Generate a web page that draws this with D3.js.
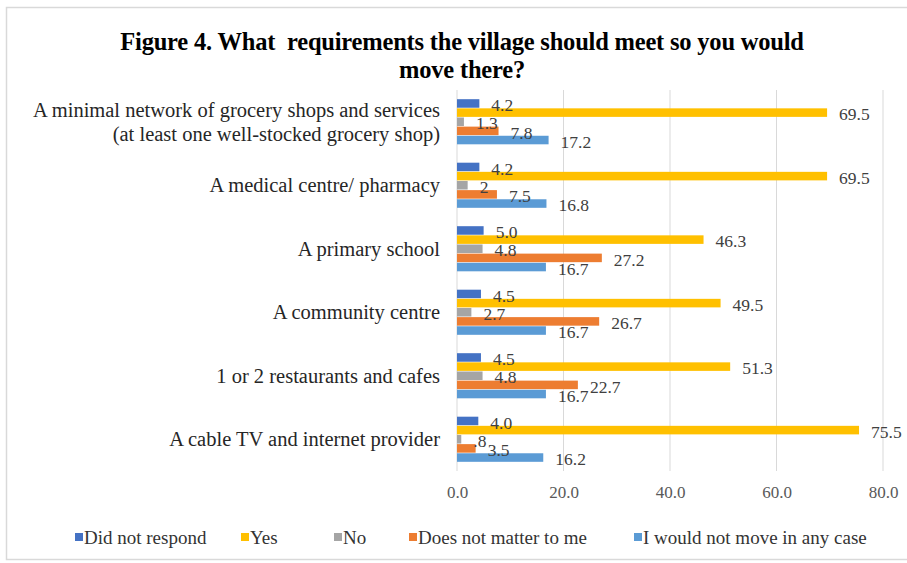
<!DOCTYPE html>
<html>
<head>
<meta charset="utf-8">
<script src="https://cdn.jsdelivr.net/npm/d3@7"></script>
<style>
  html, body { margin: 0; padding: 0; background: #fff; }
  svg { display: block; }
  text { font-family: "Liberation Serif", "Times New Roman", "DejaVu Serif", serif; }
</style>
</head>
<body>
<svg id="chart" width="907" height="563"></svg>
<script>
// ---- Data ----
const categories = [
  ["A minimal network of grocery shops and services", "(at least one well-stocked grocery shop)"],
  ["A medical centre/ pharmacy"],
  ["A primary school"],
  ["A community centre"],
  ["1 or 2 restaurants and cafes"],
  ["A cable TV and internet provider"]
];
const seriesNames = ["Did not respond", "Yes", "No", "Does not matter to me", "I would not move in any case"];
const seriesColors = ["#4472C4", "#FFC000", "#A5A5A5", "#ED7D31", "#5B9BD5"];
const didNotRespond = [4.2, 4.2, 5.0, 4.5, 4.5, 4.0];
const yes = [69.5, 69.5, 46.3, 49.5, 51.3, 75.5];
const no = [1.3, 2, 4.8, 2.7, 4.8, 0.8];
const noLabels = ["1.3", "2", "4.8", "2.7", "4.8", ".8"];
const doesNotMatter = [7.8, 7.5, 27.2, 26.7, 22.7, 3.5];
const wouldNotMove = [17.2, 16.8, 16.7, 16.7, 16.7, 16.2];
const xTicks = [0, 20, 40, 60, 80];
const titleLines = ["Figure 4. What  requirements the village should meet so you would", "move there?"];

const seriesValues = [didNotRespond, yes, no, doesNotMatter, wouldNotMove];
const fmt = d3.format(".1f");
const seriesLabels = seriesValues.map((vals, i) => i === 2 ? noLabels : vals.map(v => fmt(v)));

// ---- Layout ----
const svg = d3.select("#chart");
svg.append("rect").attr("x", 6.5).attr("y", 7.5).attr("width", 920).attr("height", 552)
  .attr("fill", "#fff").attr("stroke", "#d9d9d9").attr("stroke-width", 1.5);

const x = d3.scaleLinear().domain([0, 80]).range([457, 883]);
const catIdx = categories.map((c, i) => i);
const y = d3.scaleBand().domain(catIdx).range([90, 471]).paddingInner(0.28).paddingOuter(0.14);
const ySub = d3.scaleBand().domain(d3.range(seriesNames.length)).range([0, y.bandwidth()]);

// Title
svg.append("g").selectAll("text").data(titleLines).join("text")
  .attr("x", 462).attr("y", (d, i) => 50 + i * 28)
  .attr("text-anchor", "middle")
  .style("white-space", "pre")
  .attr("font-size", 24.5).attr("font-weight", "bold").attr("fill", "#000")
  .attr("letter-spacing", -0.2)
  .text(d => d);

// Gridlines
const grid = svg.append("g");
grid.selectAll("line").data(xTicks).join("line")
  .attr("x1", d => x(d)).attr("x2", d => x(d))
  .attr("y1", 90).attr("y2", 471)
  .attr("stroke", "#d9d9d9").attr("stroke-width", 1);

// Axis tick labels
const xAxis = d3.axisBottom(x).tickValues(xTicks).tickFormat(d => fmt(d)).tickSize(0).tickPadding(15);
const ax = svg.append("g").attr("transform", "translate(0,471)").call(xAxis);
ax.attr("font-family", null).attr("font-size", null);
ax.select(".domain").remove();
ax.selectAll("text").attr("font-size", 17).attr("fill", "#595959");

// Category labels
const catG = svg.append("g");
categories.forEach((lines, i) => {
  const cy = y(i) + y.bandwidth() / 2;
  const n = lines.length;
  lines.forEach((ln, j) => {
    catG.append("text")
      .attr("x", 440).attr("y", cy + (j - (n - 1) / 2) * 24)
      .attr("dy", "0.35em")
      .attr("text-anchor", "end")
      .attr("font-size", 20.5).attr("fill", "#262626")
      .text(ln);
  });
});

// Bars
const barsG = svg.append("g");
seriesValues.forEach((vals, s) => {
  barsG.append("g").selectAll("rect").data(vals).join("rect")
    .attr("x", x(0))
    .attr("y", (d, i) => y(i) + ySub(s) + 0.3)
    .attr("width", d => x(d) - x(0))
    .attr("height", ySub.bandwidth() - 0.6)
    .attr("fill", seriesColors[s]);
});

// Data labels
const labG = svg.append("g");
seriesValues.forEach((vals, s) => {
  labG.append("g").selectAll("text").data(vals).join("text")
    .attr("x", d => x(d) + 12)
    .attr("y", (d, i) => y(i) + ySub(s) + ySub.bandwidth() / 2 + 1.5)
    .attr("dy", "0.35em")
    .attr("font-size", 17.5).attr("fill", "#404040")
    .text((d, i) => seriesLabels[s][i]);
});

// Legend
const legendX = [75, 241, 334, 409, 634];
const leg = svg.append("g");
seriesNames.forEach((name, i) => {
  leg.append("rect").attr("x", legendX[i]).attr("y", 533).attr("width", 8).attr("height", 8)
    .attr("fill", seriesColors[i]);
  leg.append("text").attr("x", legendX[i] + 9).attr("y", 537.5).attr("dy", "0.35em")
    .attr("font-size", 19).attr("fill", "#333").text(name);
});
</script>
</body>
</html>
